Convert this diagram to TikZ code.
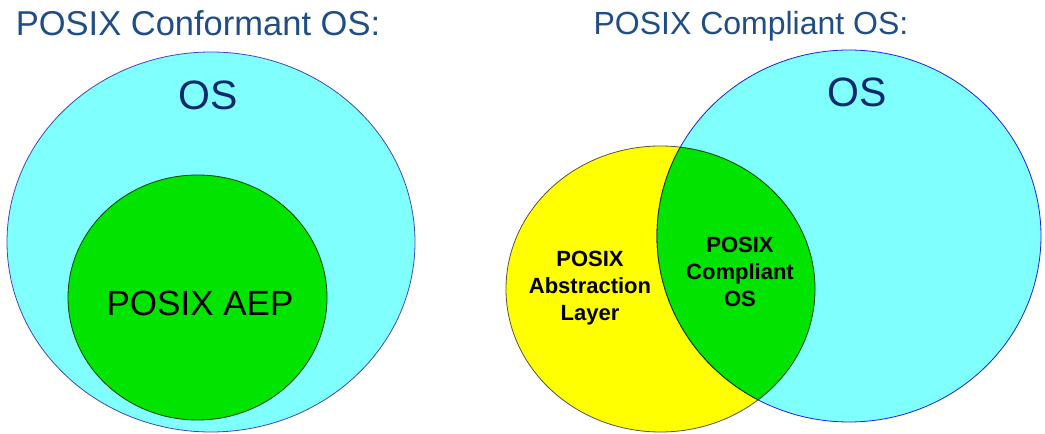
\documentclass[tikz,border=0pt]{standalone}
\usepackage{fontspec}
\setmainfont{Liberation Sans}
\usepackage{tikz}
\definecolor{oscyan}{RGB}{128,255,255}
\definecolor{aepgreen}{RGB}{0,228,0}
\definecolor{layeryellow}{RGB}{255,255,0}
\definecolor{titleblue}{RGB}{31,78,135}
\definecolor{osnavy}{RGB}{12,40,110}
\usetikzlibrary{positioning}

\begin{document}
\begin{tikzpicture}[x=1pt,y=1pt,
		title/.style={text=titleblue,font=\fontsize{33}{36}\selectfont,text depth=0pt},
		ostext/.style={text=osnavy,font=\fontsize{41}{44}\selectfont},
		lbl/.style={align=center,font=\bfseries\fontsize{22}{27}\selectfont},
		os/.style={fill=oscyan,draw=blue!60!gray,line width=0.8pt},
		lens/.style={draw=black!75!green,line width=0.8pt}]
				\useasboundingbox (0,0) rectangle (1045,434);
				% conformant side
				\draw[os,draw=blue!45!gray] (211,192) ellipse (204 and 190);
				\draw[fill=aepgreen,lens] (197.5,136.5) ellipse (129.5 and 122.5);
				\node[title,font=\fontsize{34.5}{38}\selectfont] (tconf) at (198,411) {POSIX Conformant OS:};
				\node[ostext] (osa) at (208,339) {OS};
				\node[font=\fontsize{35}{38}\selectfont] (aep) at (200,131) {POSIX AEP};
				% compliant side
				\draw[fill=layeryellow,draw=black!60!yellow!60!black,line width=0.8pt] (660.5,145) ellipse (154.5 and 143);
				\draw[os,draw=blue!75!gray] (849,198) ellipse (192 and 186);
				\begin{scope}
					\clip (660.5,145) ellipse (154.5 and 143);
					\fill[aepgreen] (849,198) ellipse (192 and 186);
					\draw[lens] (849,198) ellipse (192 and 186);
				\end{scope}
				\begin{scope}
					\clip (849,198) ellipse (192 and 186);
					\draw[lens] (660.5,145) ellipse (154.5 and 143);
				\end{scope}
				\node[title,font=\fontsize{32}{35}\selectfont] (tcomp) at (751,411) {POSIX Compliant OS:};
				\node[ostext] (osb) at (857,342) {OS};
				\node[lbl] (layer) at (590,146) {POSIX\\Abstraction\\Layer};
				\node[lbl] (compl) at (740,162) {POSIX\\Compliant\\OS};
			\end{tikzpicture}
\end{document}
